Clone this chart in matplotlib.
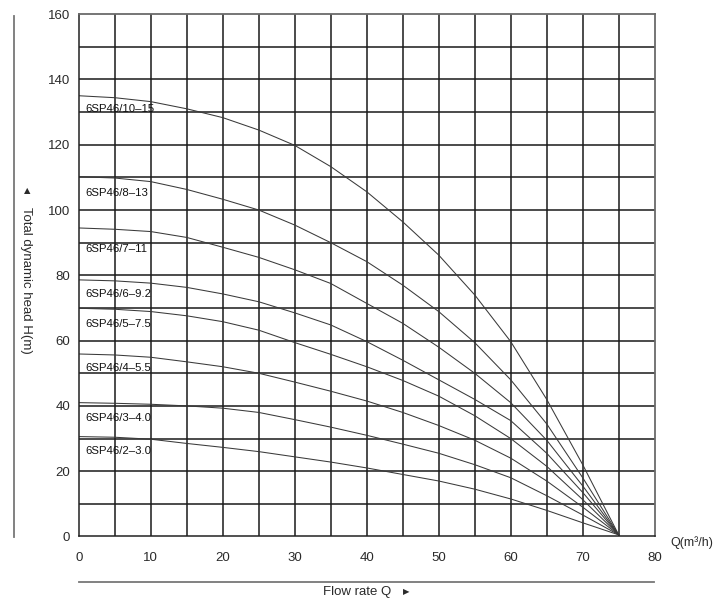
import matplotlib
matplotlib.use("Agg")
import matplotlib.pyplot as plt
import numpy as np

plt.rcParams["font.family"] = ["Liberation Sans", "DejaVu Sans"]

# ── Data ──────────────────────────────────────────────────────────────────────
flow = [0, 5, 10, 15, 20, 25, 30, 35, 40, 45, 50, 55, 60, 65, 70, 75]

head_10_15 = [135, 134.4, 133.2, 131.0, 128.3, 124.5, 119.8, 113.3, 105.6, 96.4, 86.2, 74.0, 59.7, 42.0, 22.0, 0.5]
head_8_13 = [110.2, 109.8, 108.7, 106.3, 103.3, 100.0, 95.4, 90.0, 84.2, 77.0, 68.9, 59.4, 48.0, 34.5, 18.0, 0.5]
head_7_11 = [94.5, 94.1, 93.4, 91.6, 88.6, 85.5, 81.7, 77.5, 71.4, 65.3, 58.0, 50.0, 41.0, 29.5, 15.5, 0.5]
head_6_9 = [78.6, 78.3, 77.6, 76.3, 74.3, 71.9, 68.5, 64.8, 59.7, 54.0, 48.0, 42.0, 35.5, 25.5, 13.5, 0.5]
head_5_7 = [69.9, 69.6, 68.9, 67.6, 65.8, 63.2, 59.4, 55.8, 52.0, 47.8, 43.0, 37.0, 30.0, 21.5, 11.3, 0.5]
head_4_5 = [55.9, 55.6, 54.9, 53.5, 52.0, 50.0, 47.3, 44.5, 41.5, 38.0, 34.0, 29.5, 24.0, 17.0, 9.0, 0.5]
head_3_4 = [41.0, 40.8, 40.5, 40.0, 39.3, 38.0, 35.8, 33.5, 31.0, 28.3, 25.5, 22.0, 18.0, 12.5, 6.6, 0.5]
head_2_3 = [30.6, 30.4, 29.8, 28.5, 27.3, 26.0, 24.4, 22.8, 21.0, 19.0, 17.0, 14.5, 11.5, 8.0, 4.2, 0.5]

models = ["6SP46/10–15", "6SP46/8–13", "6SP46/7–11", "6SP46/6–9.2",
          "6SP46/5–7.5", "6SP46/4–5.5", "6SP46/3–4.0", "6SP46/2–3.0"]
heads = [head_10_15, head_8_13, head_7_11, head_6_9,
         head_5_7, head_4_5, head_3_4, head_2_3]

# label anchor heights (just under each curve's start)
label_y = [130.9, 105.1, 88.0, 74.2, 65.1, 51.5, 36.4, 26.3]

x_ticks = list(range(0, 81, 10))
y_ticks = list(range(0, 161, 20))

# ── Figure ─────────────────────────────────────────────────────────────────────
fig = plt.figure(figsize=(7.2, 6.03), dpi=100)
ax = fig.add_axes([0.1093, 0.1103, 0.8, 0.8663])

GRID = "#1a1a1a"
TXT = "#2a2a2a"

for xv in np.arange(5, 80, 5):
    ax.axvline(xv, color=GRID, lw=1.1, zorder=1)
for yv in np.arange(10, 160, 10):
    ax.axhline(yv, color=GRID, lw=1.1, zorder=1)

for h in heads:
    ax.plot(flow, h, color="#3a3a3a", lw=0.75, zorder=2)

for name, ly in zip(models, label_y):
    ax.text(0.9, ly, name, fontsize=8.2, color="#111111", va="center", ha="left", zorder=3)

ax.set_xlim(0, 80)
ax.set_ylim(0, 160)
ax.set_xticks(x_ticks)
ax.set_yticks(y_ticks)
ax.tick_params(length=0, labelsize=9.5, labelcolor=TXT)
ax.tick_params(axis="x", pad=11)
ax.tick_params(axis="y", pad=6)
for side in ["left", "bottom"]:
    ax.spines[side].set_color("#222222")
    ax.spines[side].set_linewidth(1.1)
for side in ["top", "right"]:
    ax.spines[side].set_color("#6a6a6a")
    ax.spines[side].set_linewidth(1.3)

# outer axis decorations
fig.add_artist(plt.Line2D([13.5 / 720, 13.5 / 720], [1 - 16 / 603, 1 - 537 / 603],
                          color="#777777", lw=1.3))
fig.add_artist(plt.Line2D([79 / 720, 654 / 720], [1 - 581.5 / 603, 1 - 581.5 / 603],
                          color="#777777", lw=1.3))
fig.text(27 / 720, 1 - 191 / 603, "▲", fontsize=6, color=TXT, ha="center", va="center",
         family=["DejaVu Sans"])
fig.text(26 / 720, 1 - 280 / 603, "Total dynamic head H(m)", fontsize=9.5, color=TXT,
         rotation=-90, ha="center", va="center")
fig.text(357 / 720, 1 - 592 / 603, "Flow rate Q", fontsize=9.5, color=TXT,
         ha="center", va="center")
fig.text(406 / 720, 1 - 592 / 603, "▶", fontsize=6, color=TXT, ha="center", va="center",
         family=["DejaVu Sans"])
fig.text(692 / 720, 1 - 543 / 603, "Q(m³/h)", fontsize=9, color=TXT,
         ha="center", va="center")

fig.savefig("out.png", dpi=100)
